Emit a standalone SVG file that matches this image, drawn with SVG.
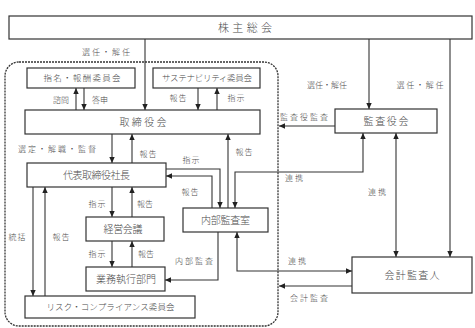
<svg xmlns="http://www.w3.org/2000/svg" width="475" height="328" viewBox="0 0 475 328">
<style>
.box{fill:#fff;stroke:#333;stroke-width:1.2}
.ln{fill:none;stroke:#333;stroke-width:1.1}
.t{font-family:"Liberation Serif","Noto Sans CJK JP",serif;font-weight:300;fill:#4a4a4a;text-anchor:middle;dominant-baseline:central}
.lb{font-size:8px}
.bt{font-size:10px}
.st{font-size:8.5px}
</style>
<defs>
<marker id="a" markerUnits="userSpaceOnUse" markerWidth="6" markerHeight="6" refX="6" refY="3" orient="auto-start-reverse" viewBox="0 0 6 6">
<path d="M0,0.3 L6,3 L0,5.7 z" fill="#222"/>
</marker>
</defs>
<rect x="0" y="0" width="475" height="328" fill="#fff"/>
<rect id="frame" x="5" y="62" width="273" height="264" rx="14" fill="none" stroke="#333" stroke-width="1.3" stroke-dasharray="2 1"/>

<g id="connectors">
<path class="ln" d="M145,39 V110" marker-end="url(#a)"/>
<path class="ln" d="M369,39 V109" marker-end="url(#a)"/>
<path class="ln" d="M450,39 V257" marker-end="url(#a)"/>
<path class="ln" d="M76,110 V88" marker-end="url(#a)"/>
<path class="ln" d="M84,88 V110" marker-end="url(#a)"/>
<path class="ln" d="M198,88 V110" marker-end="url(#a)"/>
<path class="ln" d="M217,110 V88" marker-end="url(#a)"/>
<path class="ln" d="M112,134 V163" marker-end="url(#a)"/>
<path class="ln" d="M132,163 V134" marker-end="url(#a)"/>
<path class="ln" d="M335,126 H279" marker-end="url(#a)"/>
<path class="ln" d="M166,169 H220 V208" marker-end="url(#a)"/>
<path class="ln" d="M212,208 V176 H166" marker-end="url(#a)"/>
<path class="ln" d="M228,208 V134" marker-end="url(#a)"/>
<path class="ln" d="M235,208 V172 H363 V133" marker-start="url(#a)" marker-end="url(#a)"/>
<path class="ln" d="M396,133 V257" marker-start="url(#a)" marker-end="url(#a)"/>
<path class="ln" d="M112,187 V217" marker-end="url(#a)"/>
<path class="ln" d="M132,217 V187" marker-end="url(#a)"/>
<path class="ln" d="M112,241 V267" marker-end="url(#a)"/>
<path class="ln" d="M132,267 V241" marker-end="url(#a)"/>
<path class="ln" d="M218,232 V280 H165" marker-end="url(#a)"/>
<path class="ln" d="M237,232 V271 H352" marker-start="url(#a)" marker-end="url(#a)"/>
<path class="ln" d="M352,286 H279" marker-end="url(#a)"/>
<path class="ln" d="M33,187 V296" marker-end="url(#a)"/>
<path class="ln" d="M45,296 V187" marker-end="url(#a)"/>
</g>

<g id="shareholders"><rect class="box" x="9" y="16" width="463" height="23"/><text class="t" x="245" y="28" font-size="11" textLength="54">株主総会</text></g>
<g id="nomination"><rect class="box" x="27" y="68" width="108" height="20"/><text class="t st" x="82" y="78" textLength="77">指名・報酬委員会</text></g>
<g id="sustainability"><rect class="box" x="153" y="68" width="107" height="20"/><text class="t st" x="207" y="78" textLength="90">サステナビリティ委員会</text></g>
<g id="board"><rect class="box" x="25" y="110" width="235" height="24"/><text class="t bt" x="143" y="122" textLength="47">取締役会</text></g>
<g id="auditboard"><rect class="box" x="335" y="109" width="102" height="24"/><text class="t bt" x="386" y="121" textLength="45">監査役会</text></g>
<g id="president"><rect class="box" x="27" y="163" width="139" height="24"/><text class="t bt" x="96.5" y="175" textLength="67">代表取締役社長</text></g>
<g id="internalaudit"><rect class="box" x="183" y="208" width="85" height="24"/><text class="t bt" x="225.5" y="220" textLength="49">内部監査室</text></g>
<g id="mgmt"><rect class="box" x="86" y="217" width="78" height="24"/><text class="t bt" x="123" y="229" textLength="39">経営会議</text></g>
<g id="business"><rect class="box" x="86" y="267" width="79" height="24"/><text class="t bt" x="126" y="279" textLength="60">業務執行部門</text></g>
<g id="risk"><rect class="box" x="25" y="296" width="170" height="22"/><text class="t st" x="110.5" y="307" textLength="128">リスク・コンプライアンス委員会</text></g>
<g id="accountant"><rect class="box" x="352" y="257" width="120" height="36"/><text class="t bt" x="412" y="275" textLength="55">会計監査人</text></g>

<g id="labels">
<text class="t lb" x="106" y="52" textLength="48">選任・解任</text>
<text class="t lb" x="327" y="85" textLength="40">選任・解任</text>
<text class="t lb" x="420" y="85" textLength="47">選任・解任</text>
<text class="t lb" x="61" y="100" textLength="16">諮問</text>
<text class="t lb" x="100" y="100" textLength="16">答申</text>
<text class="t lb" x="178" y="98" textLength="17">報告</text>
<text class="t lb" x="236" y="98" textLength="17">指示</text>
<text class="t lb" x="57" y="149" textLength="78">選定・解職・監督</text>
<text class="t lb" x="148" y="154" textLength="17">報告</text>
<text class="t lb" x="191" y="160" textLength="17">指示</text>
<text class="t lb" x="244" y="152" textLength="17">報告</text>
<text class="t lb" x="190" y="192" textLength="17">報告</text>
<text class="t lb" x="304" y="117" textLength="48">監査役監査</text>
<text class="t lb" x="294" y="178" textLength="18">連携</text>
<text class="t lb" x="377" y="192" textLength="18">連携</text>
<text class="t lb" x="97" y="204" textLength="17">指示</text>
<text class="t lb" x="145" y="204" textLength="16">報告</text>
<text class="t lb" x="17" y="237" textLength="17">統括</text>
<text class="t lb" x="61" y="237" textLength="17">報告</text>
<text class="t lb" x="97" y="254" textLength="17">指示</text>
<text class="t lb" x="146" y="254" textLength="16">報告</text>
<text class="t lb" x="194" y="261" textLength="38">内部監査</text>
<text class="t lb" x="297" y="261" textLength="18">連携</text>
<text class="t lb" x="309" y="298" textLength="38">会計監査</text>
</g>
</svg>
